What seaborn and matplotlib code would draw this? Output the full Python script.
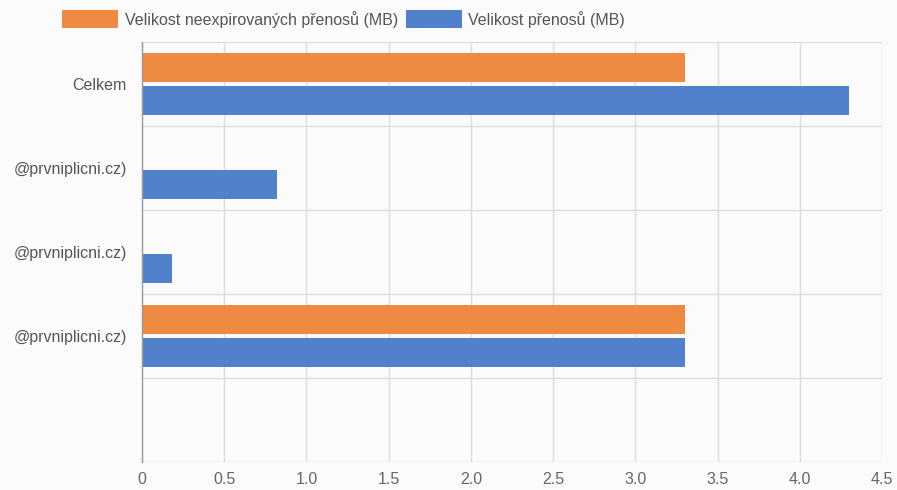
import matplotlib
matplotlib.use("Agg")
import matplotlib.pyplot as plt
import seaborn as sns
import pandas as pd
import numpy as np

# ---- data ----
row_ids = ["r0", "r1", "r2", "r3", "r4"]
row_labels = ["Celkem", "@prvniplicni.cz)", "@prvniplicni.cz)", "@prvniplicni.cz)", ""]
series_names = ["Velikost neexpirovaných přenosů (MB)", "Velikost přenosů (MB)"]
unexpired_mb = [3.3, 0.0, 0.0, 3.3]
total_mb = [4.3, 0.82, 0.18, 3.3]
x_ticks = [0, 0.5, 1.0, 1.5, 2.0, 2.5, 3.0, 3.5, 4.0, 4.5]
x_tick_labels = ["0", "0.5", "1.0", "1.5", "2.0", "2.5", "3.0", "3.5", "4.0", "4.5"]

colors = ["#EF8A42", "#5181CA"]

rows = []
for rid, v in zip(row_ids[:4], unexpired_mb):
    rows.append({"row": rid, "series": series_names[0], "value": v})
for rid, v in zip(row_ids[:4], total_mb):
    rows.append({"row": rid, "series": series_names[1], "value": v})
df = pd.DataFrame(rows)

sns.set_theme(style="white")
plt.rcParams["font.family"] = ["Liberation Sans", "DejaVu Sans"]

FS = 11.5

fig = plt.figure(figsize=(8.97, 4.90), dpi=100)
fig.patch.set_facecolor("#fbfbfb")
ax = fig.add_axes([142 / 897, 1 - 462 / 490, (882 - 142) / 897, (462 - 42) / 490])
ax.set_facecolor("#fbfbfb")

sns.barplot(data=df, y="row", x="value", hue="series", order=row_ids,
            hue_order=series_names, palette=colors, orient="h",
            width=0.786, gap=0.12, linewidth=0, saturation=1, ax=ax)

ax.set_xlim(0, 4.5)
ax.set_ylim(4.5, -0.5)
ax.set_xticks(x_ticks)
ax.set_xticklabels(x_tick_labels)
ax.set_yticks(range(len(row_ids)))
ax.set_yticklabels(row_labels)
ax.set_yticks(np.arange(-0.5, len(row_ids), 1.0), minor=True)
ax.set_xlabel("")
ax.set_ylabel("")

ax.tick_params(axis="y", which="major", length=0, pad=11, labelsize=FS, labelcolor="#555555")
ax.tick_params(axis="y", which="minor", length=10, color="#dddddd", width=1)
ax.tick_params(axis="x", which="major", length=0, pad=7, labelsize=FS, labelcolor="#666666")

ax.grid(True, axis="x", which="major", color="#dddddd", linewidth=1)
ax.grid(True, axis="y", which="minor", color="#dddddd", linewidth=1)
ax.grid(False, axis="y", which="major")
ax.set_axisbelow(True)

for side in ["top", "right", "bottom"]:
    ax.spines[side].set_visible(False)
ax.spines["left"].set_color("#999999")
ax.spines["left"].set_linewidth(1)
ax.axhline(-0.5, color="#cccccc", linewidth=1.2, zorder=0)

handles, labels = ax.get_legend_handles_labels()
ax.get_legend().remove()
fig.legend(handles, labels, loc="upper left", bbox_to_anchor=(48 / 897, 1 + 4 / 490),
           ncol=2, frameon=False, fontsize=FS, labelcolor="#555555",
           handlelength=3.5, handleheight=1.35, handletextpad=0.4, columnspacing=0.5)

fig.savefig("out.png", dpi=100, facecolor=fig.get_facecolor())
